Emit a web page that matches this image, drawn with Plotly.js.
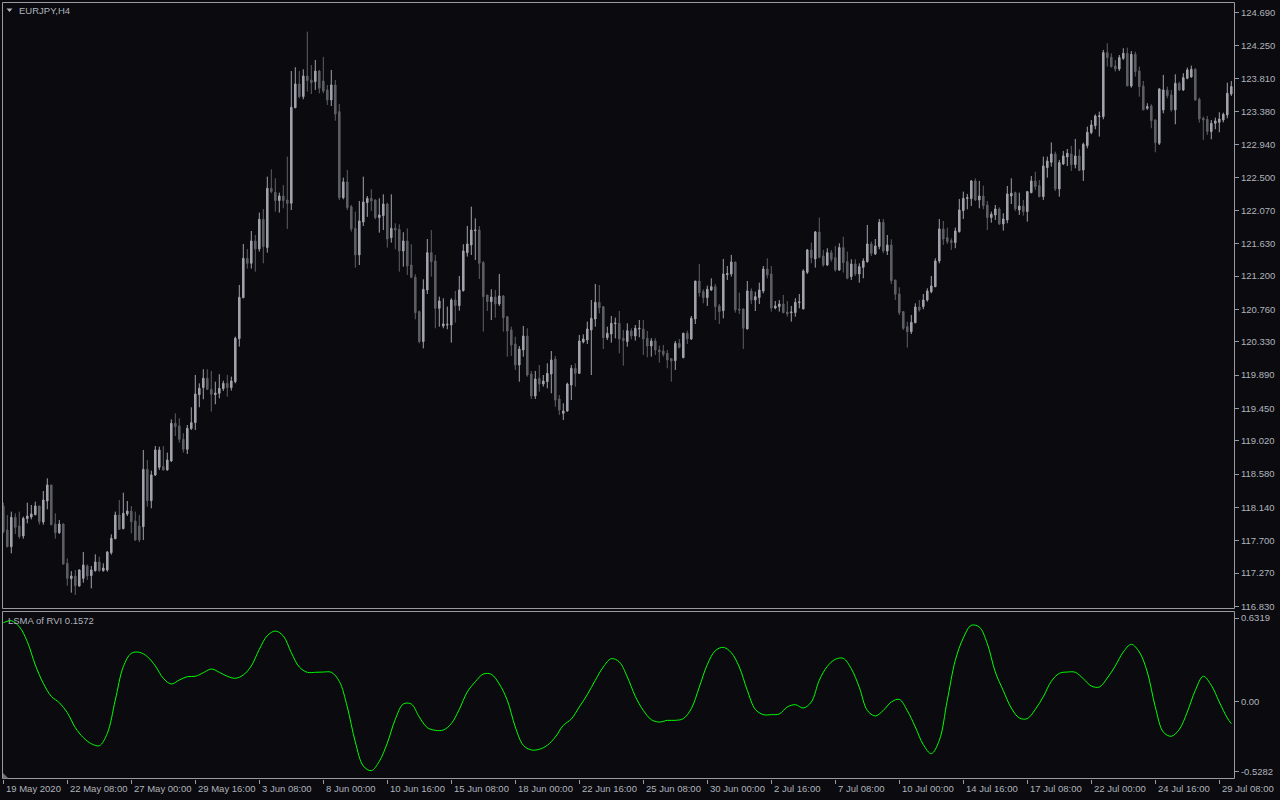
<!DOCTYPE html>
<html>
<head>
<meta charset="utf-8">
<script src="https://cdn.plot.ly/plotly-3.0.1.min.js"></script>
<style>html,body{margin:0;padding:0;background:#0a0a0f;overflow:hidden}</style>
</head>
<body>
<div id="chart" style="width:1280px;height:800px"></div>
<script>
// EURJPY H4 candles (bar 0 = 19 May 2020 16:00)
const openP = [118.157,117.839,117.618,118.007,117.892,117.760,117.989,118.011,118.042,118.157,117.945,118.223,118.435,117.918,117.804,117.918,117.398,117.195,117.230,117.098,117.199,117.363,117.235,117.301,117.416,117.301,117.310,117.539,117.724,118.037,117.857,118.051,118.090,117.958,117.892,117.883,118.642,118.227,118.567,118.669,118.678,118.634,118.753,119.251,119.216,119.039,118.907,119.181,119.260,119.630,119.723,119.847,119.701,119.630,119.648,119.710,119.780,119.723,119.802,120.371,120.914,121.434,121.368,121.664,121.558,121.951,121.576,122.361,122.308,122.198,122.259,122.206,122.162,123.428,123.741,123.574,123.847,123.794,123.772,123.913,123.781,123.662,123.530,123.728,123.375,122.237,122.445,122.118,121.831,121.479,121.915,122.171,122.228,122.206,121.973,121.999,122.153,121.708,121.831,121.818,121.532,121.664,121.346,121.183,120.729,120.332,121.015,121.509,121.399,120.773,120.539,120.552,120.552,120.883,120.808,121.007,121.509,121.611,121.800,121.809,121.377,120.949,120.861,120.922,120.830,120.936,120.662,120.486,120.300,120.023,120.221,120.406,119.903,119.612,119.846,119.771,119.802,119.903,120.102,119.573,119.383,119.414,119.758,119.978,119.912,120.327,120.353,120.486,120.631,120.852,120.794,120.384,120.433,120.570,120.574,120.375,120.332,120.473,120.407,120.499,120.499,120.376,120.274,120.340,120.221,120.208,120.177,120.107,120.080,120.310,120.120,120.442,120.367,120.632,121.134,120.993,120.914,121.015,121.059,120.804,120.742,121.218,121.227,121.386,120.764,120.764,120.499,121.002,120.883,120.914,121.002,121.293,121.227,120.777,120.795,120.830,120.724,120.715,120.715,120.848,120.764,121.249,121.545,121.426,121.783,121.465,121.346,121.509,121.443,121.280,121.576,121.390,121.192,121.359,121.227,121.315,121.390,121.624,121.492,121.589,121.911,121.531,121.611,121.148,120.962,120.729,120.530,120.464,120.583,120.790,120.795,120.883,120.993,121.059,121.399,121.823,121.708,121.668,121.642,121.787,122.065,122.224,122.224,122.458,122.206,122.259,122.140,121.973,122.008,122.087,121.889,121.942,122.259,122.303,122.074,122.127,122.052,122.303,122.458,122.396,122.250,122.634,122.705,122.815,122.352,122.683,122.775,122.815,122.674,122.789,122.603,122.925,123.098,123.190,123.309,123.309,124.156,124.094,123.980,123.940,124.081,124.147,123.715,124.134,123.914,123.715,123.420,123.450,123.265,122.956,123.398,123.662,123.596,123.398,123.750,123.662,123.817,123.834,123.936,123.539,123.287,123.274,123.111,123.221,123.234,123.265,123.331,123.609];
const highP = [118.201,118.037,118.082,118.060,118.082,118.016,118.201,118.170,118.214,118.157,118.355,118.523,118.435,118.060,117.971,117.927,117.464,117.296,117.310,117.319,117.548,117.385,117.363,117.517,117.486,117.398,117.561,117.782,118.082,118.236,118.333,118.223,118.157,118.082,118.037,118.898,118.765,118.624,118.951,118.942,118.951,118.863,119.304,119.383,119.317,119.119,119.229,119.463,119.891,119.780,119.966,119.966,119.944,119.802,119.900,119.816,119.891,119.869,120.398,121.082,121.624,121.558,121.796,121.743,122.039,122.087,122.515,122.612,122.493,122.303,122.405,122.780,123.913,123.962,123.913,123.935,124.434,123.993,124.059,123.927,124.100,123.728,123.927,123.794,123.477,122.502,122.603,122.140,122.052,122.193,122.515,122.259,122.348,122.215,122.228,122.281,122.171,122.281,121.898,121.884,121.779,121.831,121.620,121.223,120.742,121.157,121.690,121.809,121.479,120.927,120.905,120.795,120.905,121.002,121.201,121.620,121.862,122.118,121.963,121.862,121.399,120.949,121.024,121.015,121.227,120.949,120.671,120.530,120.397,120.274,120.539,120.508,119.943,119.943,120.023,119.890,120.045,120.208,120.142,119.626,119.515,119.789,120.023,120.045,120.420,120.428,120.596,120.883,121.094,121.081,120.803,120.530,120.671,120.649,120.737,120.486,120.574,120.508,120.552,120.618,120.618,120.473,120.376,120.376,120.279,120.288,120.221,120.111,120.340,120.367,120.451,120.477,120.671,121.134,121.359,121.024,121.073,121.170,121.095,120.830,121.426,121.333,121.479,121.386,120.980,120.773,121.134,121.037,120.993,121.112,121.333,121.434,121.333,120.870,120.883,120.949,120.870,120.804,120.905,120.962,121.289,121.558,121.642,121.796,121.973,121.545,121.567,121.545,121.598,121.633,121.721,121.523,121.421,121.421,121.368,121.434,121.876,121.655,121.690,121.955,121.955,121.743,121.686,121.148,121.051,120.729,120.596,120.685,120.839,120.883,120.962,121.037,121.201,121.434,121.955,121.928,121.840,121.699,121.840,122.220,122.317,122.286,122.471,122.493,122.458,122.396,122.193,122.052,122.140,122.109,122.030,122.392,122.493,122.317,122.303,122.206,122.325,122.524,122.581,122.471,122.780,122.780,122.969,122.846,122.736,122.855,122.881,122.921,123.014,122.877,122.965,123.177,123.265,123.340,123.375,124.192,124.280,124.147,124.059,124.125,124.214,124.222,124.178,124.170,123.971,123.781,123.486,123.473,123.274,123.684,123.861,123.706,123.662,123.869,123.772,123.883,123.958,123.984,123.949,123.561,123.309,123.318,123.265,123.296,123.367,123.362,123.759,123.781];
const lowP = [117.795,117.610,117.530,117.786,117.724,117.724,117.927,117.980,118.033,117.910,117.910,118.113,117.901,117.724,117.786,117.380,117.102,117.010,116.979,117.089,117.142,117.177,117.067,117.288,117.288,117.288,117.288,117.513,117.716,117.839,117.848,118.024,117.795,117.698,117.680,117.707,118.148,118.126,118.554,118.634,118.625,118.625,118.740,119.083,118.995,118.863,118.845,119.163,119.163,119.463,119.569,119.692,119.405,119.503,119.582,119.679,119.604,119.683,119.780,120.266,120.905,121.298,121.298,121.258,121.523,121.368,121.509,122.295,122.052,122.039,122.096,121.823,122.074,123.419,123.552,123.539,123.640,123.609,123.662,123.618,123.618,123.464,123.450,123.256,122.206,122.215,122.074,121.787,121.311,121.346,121.862,121.983,122.061,121.951,121.774,121.809,121.576,121.642,121.554,121.258,121.324,121.214,121.170,120.627,120.310,120.243,120.962,121.192,120.508,120.530,120.508,120.495,120.319,120.583,120.742,120.993,121.457,121.478,121.412,121.161,120.464,120.737,120.618,120.649,120.803,120.464,120.133,120.142,119.956,119.802,120.133,119.868,119.573,119.573,119.670,119.736,119.714,119.648,119.471,119.361,119.295,119.405,119.559,119.736,119.903,120.309,120.300,119.890,120.530,120.706,120.234,120.353,120.318,120.375,120.177,120.014,120.265,120.363,120.345,120.389,120.155,120.124,120.133,120.155,120.054,120.133,119.979,119.802,119.957,120.243,120.111,120.301,120.354,120.565,120.927,120.839,120.804,121.002,120.618,120.565,120.640,121.148,121.192,120.715,120.698,120.235,120.495,120.830,120.737,120.830,120.971,121.170,120.729,120.760,120.729,120.707,120.662,120.596,120.662,120.773,120.760,121.227,121.368,121.311,121.434,121.324,121.333,121.390,121.258,121.267,121.245,121.157,121.148,121.201,121.112,121.170,121.377,121.465,121.478,121.554,121.501,121.478,121.095,120.883,120.685,120.486,120.252,120.433,120.574,120.729,120.760,120.861,120.971,121.051,121.368,121.611,121.624,121.545,121.567,121.774,121.955,122.083,122.127,122.193,122.096,122.083,121.809,121.906,121.942,121.876,121.801,121.898,122.153,122.061,122.008,121.999,121.920,122.295,122.339,122.242,122.206,122.502,122.647,122.325,122.250,122.670,122.656,122.590,122.625,122.590,122.458,122.890,123.076,123.142,123.045,123.274,123.971,123.958,123.905,123.914,124.059,123.715,123.693,123.839,123.574,123.398,123.398,123.155,122.837,122.934,123.353,123.552,123.376,123.208,123.649,123.649,123.803,123.825,123.517,123.230,123.001,123.067,123.009,123.142,123.102,123.234,123.287,123.583];
const closeP = [117.817,117.618,118.007,117.874,117.751,117.993,118.024,118.051,118.157,117.949,118.236,118.435,117.910,117.804,117.918,117.389,117.199,117.230,117.102,117.310,117.376,117.230,117.310,117.416,117.301,117.336,117.548,117.729,118.037,117.848,118.060,118.090,117.949,117.707,117.707,118.642,118.227,118.567,118.898,118.898,118.634,118.766,119.251,119.207,119.039,118.907,119.185,119.260,119.639,119.714,119.847,119.701,119.635,119.652,119.714,119.780,119.723,119.811,120.376,120.918,121.434,121.368,121.664,121.558,121.951,121.589,122.361,122.317,122.198,122.259,122.198,122.162,123.433,123.741,123.574,123.847,123.786,123.759,123.913,123.684,123.649,123.530,123.728,123.344,122.237,122.445,122.105,121.823,121.479,121.929,122.180,122.228,122.193,121.973,122.008,122.153,121.690,121.831,121.809,121.532,121.664,121.333,121.183,120.715,120.332,121.024,121.509,121.390,120.773,120.870,120.566,120.561,120.883,120.808,121.015,121.532,121.624,121.809,121.809,121.368,120.927,120.861,120.922,120.830,120.936,120.649,120.472,120.287,120.023,120.234,120.406,119.890,119.612,119.837,119.771,119.811,119.912,120.089,119.559,119.427,119.414,119.771,119.978,119.912,120.340,120.367,120.499,120.640,120.852,120.781,120.384,120.442,120.574,120.578,120.367,120.345,120.477,120.407,120.508,120.508,120.367,120.274,120.340,120.221,120.199,120.164,120.089,120.076,120.310,120.257,120.442,120.367,120.640,121.134,120.980,120.914,121.024,121.059,120.795,120.729,121.227,121.232,121.386,120.751,120.751,120.508,121.002,120.883,120.927,121.015,121.293,121.214,120.777,120.804,120.830,120.715,120.698,120.724,120.852,120.857,121.267,121.545,121.443,121.783,121.448,121.346,121.509,121.421,121.280,121.576,121.377,121.170,121.359,121.227,121.324,121.399,121.624,121.501,121.598,121.911,121.531,121.611,121.139,120.958,120.715,120.508,120.464,120.587,120.790,120.751,120.883,121.002,121.068,121.399,121.823,121.690,121.655,121.642,121.796,122.074,122.228,122.237,122.458,122.206,122.259,122.131,121.973,122.017,122.087,121.889,121.955,122.286,122.295,122.087,122.127,122.052,122.317,122.458,122.383,122.250,122.656,122.722,122.815,122.352,122.700,122.789,122.824,122.674,122.789,122.595,122.943,123.102,123.199,123.318,123.318,124.156,124.090,123.971,123.940,124.090,124.147,123.715,124.134,123.905,123.706,123.398,123.442,123.256,122.965,123.675,123.662,123.587,123.398,123.750,123.662,123.825,123.927,123.936,123.530,123.278,123.265,123.111,123.221,123.252,123.278,123.340,123.618,123.706];

// LSMA of RVI, read at every second bar
const rviBar = [0,2,4,6,8,10,12,14,16,18,20,22,24,26,28,30,32,34,36,38,40,42,44,46,48,50,52,54,56,58,60,62,64,66,68,70,72,74,76,78,80,82,84,86,88,90,92,94,96,98,100,102,104,106,108,110,112,114,116,118,120,122,124,126,128,130,132,134,136,138,140,142,144,146,148,150,152,154,156,158,160,162,164,166,168,170,172,174,176,178,180,182,184,186,188,190,192,194,196,198,200,202,204,206,208,210,212,214,216,218,220,222,224,226,228,230,232,234,236,238,240,242,244,246,248,250,252,254,256,258,260,262,264,266,268,270,272,274,276,278,280,282,284,286,288,290,292,294,296,298,300,302,304,306,307];
const rviVal = [0.597,0.612,0.567,0.454,0.278,0.140,0.042,-0.006,-0.081,-0.194,-0.269,-0.315,-0.330,-0.237,0.014,0.265,0.366,0.374,0.341,0.271,0.178,0.135,0.165,0.190,0.193,0.220,0.248,0.223,0.193,0.178,0.203,0.271,0.396,0.499,0.534,0.497,0.371,0.263,0.223,0.223,0.225,0.223,0.155,-0.038,-0.302,-0.483,-0.518,-0.448,-0.310,-0.131,-0.016,-0.016,-0.114,-0.194,-0.214,-0.212,-0.164,-0.056,0.075,0.152,0.210,0.208,0.135,0.012,-0.189,-0.327,-0.362,-0.357,-0.327,-0.265,-0.177,-0.129,-0.038,0.055,0.163,0.263,0.326,0.301,0.188,0.042,-0.064,-0.134,-0.152,-0.139,-0.139,-0.126,-0.051,0.112,0.281,0.386,0.411,0.371,0.263,0.087,-0.056,-0.096,-0.096,-0.091,-0.038,-0.021,-0.046,-0.001,0.163,0.268,0.321,0.328,0.250,0.110,-0.064,-0.106,-0.064,-0.001,0.019,-0.066,-0.189,-0.322,-0.390,-0.290,0.012,0.313,0.482,0.577,0.564,0.439,0.225,0.085,-0.046,-0.121,-0.126,-0.056,0.039,0.155,0.215,0.225,0.223,0.175,0.120,0.112,0.180,0.271,0.376,0.434,0.376,0.225,-0.038,-0.227,-0.259,-0.207,-0.076,0.087,0.193,0.125,-0.001,-0.121,-0.164];

const priceTicks = [124.690,124.250,123.810,123.380,122.940,122.500,122.070,121.630,121.200,120.760,120.330,119.890,119.450,119.020,118.580,118.140,117.700,117.270,116.830];
const priceTickText = ['124.690','124.250','123.810','123.380','122.940','122.500','122.070','121.630','121.200','120.760','120.330','119.890','119.450','119.020','118.580','118.140','117.700','117.270','116.830'];
const rviTicks = [0.6319, 0, -0.5282];
const rviTickText = ['0.6319','0.00','-0.5282'];
const timeTickBars = [0,16,32,48,64,80,96,112,128,144,160,176,192,208,224,240,256,272,288,304];
const timeTickText = ['19 May 2020','22 May 08:00','27 May 00:00','29 May 16:00','3 Jun 08:00','8 Jun 00:00','10 Jun 16:00','15 Jun 08:00','18 Jun 00:00','22 Jun 16:00','25 Jun 08:00','30 Jun 00:00','2 Jul 16:00','7 Jul 08:00','10 Jul 00:00','14 Jul 16:00','17 Jul 08:00','22 Jul 00:00','24 Jul 16:00','29 Jul 08:00'];

const bars = openP.map((_, i) => i);

const BG = '#0a0a0f';
const BULL = '#a2a2ac';
const BEAR = '#5e5e66';
const FRAME = '#9a9aa2';
const TXT = '#b0b4bc';
const FONT = 'Liberation Sans, Arial, sans-serif';

const candles = {
  type: 'candlestick',
  x: bars, open: openP, high: highP, low: lowP, close: closeP,
  xaxis: 'x', yaxis: 'y',
  increasing: {line: {color: BULL, width: 1}, fillcolor: BULL},
  decreasing: {line: {color: BEAR, width: 1}, fillcolor: BEAR},
  whiskerwidth: 0,
  hoverinfo: 'skip', showlegend: false
};
const rvi = {
  type: 'scatter', mode: 'lines',
  x: rviBar, y: rviVal, xaxis: 'x', yaxis: 'y2',
  line: {color: '#00ff00', width: 1, shape: 'spline', smoothing: 1},
  hoverinfo: 'skip', showlegend: false
};

const W = 1232, H = 777; // plot area px
const px = v => (v - 2) / W;
const py = v => (779 - v) / H;

const annotations = timeTickBars.map((b, i) => ({
  x: b, xref: 'x', y: py(789), yref: 'paper', text: timeTickText[i],
  xanchor: 'left', yanchor: 'middle', xshift: 1, showarrow: false,
  font: {family: FONT, size: 9.5, color: TXT}
}));
annotations.push({
  x: px(17), xref: 'paper', y: py(10.5), yref: 'paper', text: 'EURJPY,H4',
  xanchor: 'left', yanchor: 'middle', showarrow: false,
  font: {family: FONT, size: 9.5, color: TXT}
});
annotations.push({
  x: px(6), xref: 'paper', y: py(620.5), yref: 'paper', text: 'LSMA of RVI 0.1572',
  xanchor: 'left', yanchor: 'middle', showarrow: false,
  font: {family: FONT, size: 9.5, color: TXT}
});

const shapes = [
  {type: 'rect', xref: 'paper', yref: 'paper', x0: px(2.5), x1: px(1234.5), y0: py(608.5), y1: py(2.5),
   line: {color: FRAME, width: 1}},
  {type: 'rect', xref: 'paper', yref: 'paper', x0: px(2.5), x1: px(1234.5), y0: py(778.5), y1: py(611.5),
   line: {color: FRAME, width: 1}},
  {type: 'path', xref: 'paper', yref: 'paper',
   path: `M ${px(6.5)} ${py(8.5)} L ${px(12.5)} ${py(8.5)} L ${px(9.5)} ${py(12)} Z`,
   fillcolor: TXT, line: {color: TXT, width: 0}},
  {type: 'path', xref: 'paper', yref: 'paper',
   path: `M ${px(3)} ${py(773)} L ${px(3)} ${py(778.5)} L ${px(8.5)} ${py(778.5)} Z`,
   fillcolor: '#707078', line: {color: '#707078', width: 0}}
];

const axisFont = {family: FONT, size: 9.5, color: TXT};

const layout = {
  width: 1280, height: 800,
  margin: {l: 2, r: 46, t: 2, b: 21, pad: 0},
  paper_bgcolor: BG, plot_bgcolor: BG,
  showlegend: false,
  boxgap: 0.45,
  xaxis: {
    anchor: 'y2', range: [-0.325, 307.675], type: 'linear',
    tickmode: 'array', tickvals: timeTickBars, showticklabels: false,
    ticks: 'outside', ticklen: 4, tickcolor: FRAME, tickwidth: 1,
    showgrid: false, zeroline: false, showline: false, fixedrange: true,
    rangeslider: {visible: false}
  },
  yaxis: {
    domain: [py(608), 1], range: [116.807, 124.826], side: 'right',
    tickmode: 'array', tickvals: priceTicks, ticktext: priceTickText,
    ticks: 'outside', ticklen: 4, tickcolor: FRAME, tickwidth: 1,
    tickfont: axisFont, showgrid: false, zeroline: false, showline: false, fixedrange: true
  },
  yaxis2: {
    domain: [0, py(611)], range: [-0.581, 0.685], side: 'right', anchor: 'x',
    tickmode: 'array', tickvals: rviTicks, ticktext: rviTickText,
    ticks: 'outside', ticklen: 4, tickcolor: FRAME, tickwidth: 1,
    tickfont: axisFont, showgrid: false, zeroline: false, showline: false, fixedrange: true
  },
  annotations: annotations,
  shapes: shapes
};

Plotly.newPlot('chart', [candles, rvi], layout, {displayModeBar: false, staticPlot: true});
</script>
</body>
</html>
